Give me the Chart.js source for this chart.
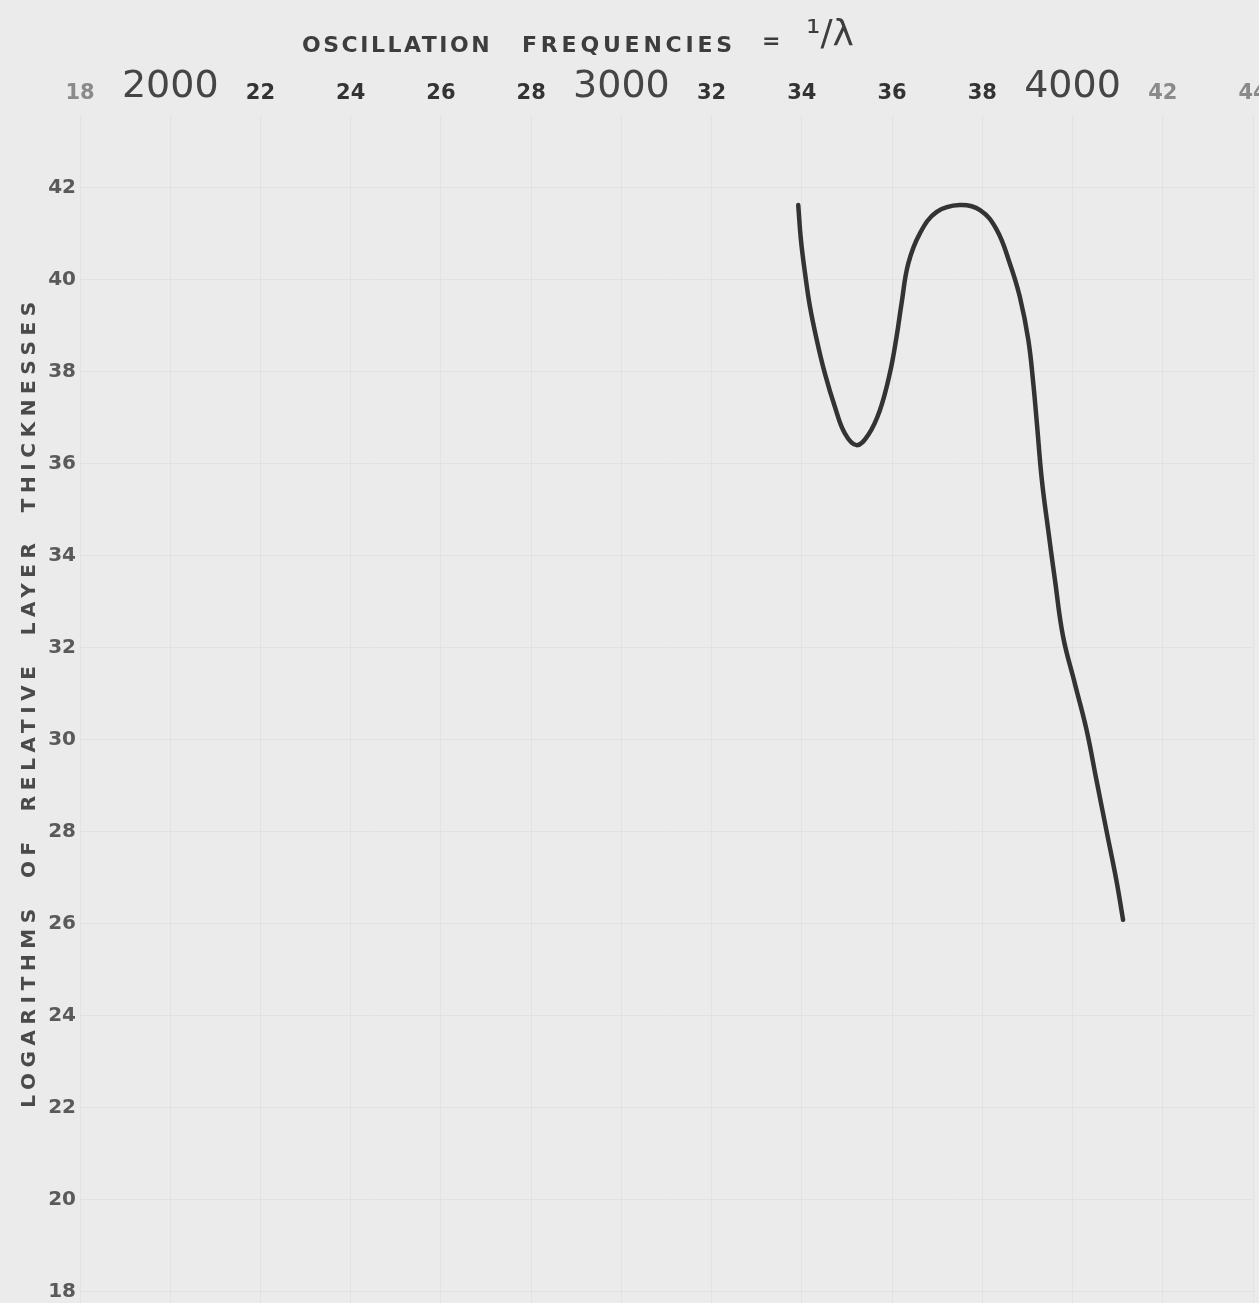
<!DOCTYPE html>
<html>
<head>
<meta charset="utf-8">
<script src="https://cdn.jsdelivr.net/npm/chart.js@4.4.1/dist/chart.umd.min.js"></script>
<style>
  html,body{margin:0;padding:0;background:#ebebeb;overflow:hidden}
  #wrap{width:1259px;height:1303px}
</style>
</head>
<body>
<div id="wrap"><canvas id="grafica" width="1259" height="1303"></canvas></div>
<script>
// values
const frecuencias = [3392,3398,3407,3418,3433,3451,3473,3495,3521,3547,3573,3595,3610,3621,3636,3662,3699,3750,3795,3832,3861,3883,3902,3913,3921,3932,3946,3961,3979,4005,4031,4053,4075,4097,4112];
const logEspesor = [41.63,40.87,40.15,39.42,38.70,37.97,37.25,36.67,36.41,36.63,37.17,37.97,38.77,39.49,40.36,41.02,41.48,41.63,41.52,41.09,40.36,39.64,38.70,37.75,36.88,35.65,34.57,33.48,32.25,31.23,30.22,29.13,28.04,26.96,26.09];

const xTicks = [1800,2000,2200,2400,2600,2800,3000,3200,3400,3600,3800,4000,4200,4400];
const xLabels = ["18","2000","22","24","26","28","3000","32","34","36","38","4000","42","44"];
const yTicks = [18,20,22,24,26,28,30,32,34,36,38,40,42];
const yLabels = ["18","20","22","24","26","28","30","32","34","36","38","40","42"];

const tituloX1 = "OSCILLATION";
const tituloX2 = "FREQUENCIES";
const tituloXfin = "=";
const tituloXlambda = "¹/λ";
const tituloY = "LOGARITHMS  OF  RELATIVE  LAYER  THICKNESSES";

const titulos = {
  id: 'titulos',
  afterDraw(chart) {
    const ctx = chart.ctx;
    ctx.save();
    ctx.fillStyle = '#3d3d3d';
    ctx.textBaseline = 'middle';
    ctx.textAlign = 'left';
    ctx.font = 'bold 22px "DejaVu Sans"';
    ctx.letterSpacing = '2.5px';
    ctx.fillText(tituloX1, 302, 46);
    ctx.letterSpacing = '3.8px';
    ctx.fillText(tituloX2, 522, 46);
    ctx.letterSpacing = '0px';
    ctx.fillText(tituloXfin, 762, 42);
    ctx.font = '36px "DejaVu Sans"';
    ctx.fillText(tituloXlambda, 806, 36);
    ctx.translate(30, 702);
    ctx.rotate(-Math.PI / 2);
    ctx.textAlign = 'center';
    ctx.font = 'bold 20px "DejaVu Sans"';
    ctx.letterSpacing = '5.6px';
    ctx.fillStyle = '#4a4a4a';
    ctx.fillText(tituloY, 0, 0);
    ctx.restore();
  }
};

const ctx = document.getElementById("grafica").getContext("2d");
new Chart(ctx, {
  type: "scatter",
  data: {
    datasets: [{
      data: frecuencias.map((f, i) => ({ x: f, y: logEspesor[i] })),
      showLine: true,
      borderColor: "#333333",
      borderWidth: 4.5,
      tension: 0.4,
      borderCapStyle: "round",
      borderJoinStyle: "round",
      pointRadius: 0,
      fill: false
    }]
  },
  options: {
    responsive: false,
    animation: false,
    layout: { padding: { left: 0, right: 6, top: 0, bottom: 0 } },
    plugins: { legend: { display: false }, tooltip: { enabled: false } },
    scales: {
      x: {
        type: "linear",
        position: "top",
        min: 1800,
        max: 4400,
        afterBuildTicks: s => { s.ticks = xTicks.map(v => ({ value: v })); },
        afterFit: s => { s.height = 115; s.paddingLeft = 0; s.paddingRight = 0; },
        border: { display: false },
        grid: { color: "rgba(0,0,0,0.035)", drawTicks: false, lineWidth: 1 },
        ticks: {
          autoSkip: false,
          maxRotation: 0,
          padding: 9,
          callback: (v) => xLabels[xTicks.indexOf(v)],
          font: c => (c.tick && c.tick.value % 1000 === 0)
            ? { family: "DejaVu Sans", size: 38, lineHeight: 1.0 }
            : { family: "DejaVu Sans", size: 21, weight: "bold", lineHeight: 1.2 },
          color: c => {
            const v = c.tick ? c.tick.value : 0;
            if (v === 1800 || v >= 4200) return "#8a8a8a";
            if (v % 1000 === 0) return "#454545";
            return "#333333";
          }
        }
      },
      y: {
        type: "linear",
        min: 17.76,
        max: 42 + 73 / 46,
        afterBuildTicks: s => { s.ticks = yTicks.map(v => ({ value: v })); },
        afterFit: s => { s.width = 80; s.paddingTop = 0; s.paddingBottom = 0; },
        border: { display: false },
        grid: { color: "rgba(0,0,0,0.035)", drawTicks: false },
        ticks: {
          autoSkip: false,
          padding: 4,
          callback: (v) => yLabels[yTicks.indexOf(v)],
          font: { family: "DejaVu Sans", size: 20, weight: "bold" },
          color: "#5a5a5a"
        }
      }
    }
  },
  plugins: [titulos]
});
</script>
</body>
</html>
